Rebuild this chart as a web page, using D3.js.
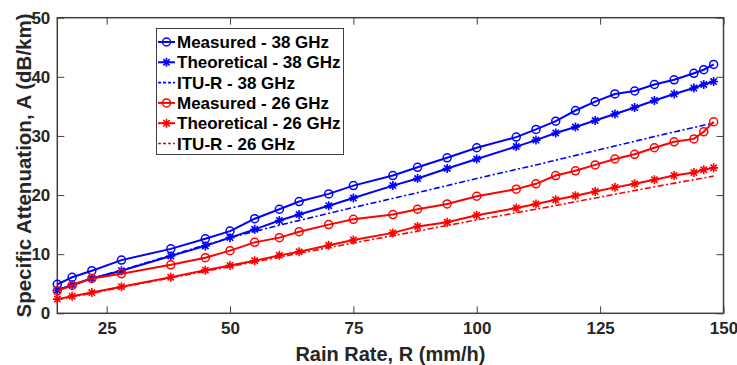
<!DOCTYPE html>
<html>
<head>
<meta charset="utf-8">
<script src="https://cdn.jsdelivr.net/npm/d3@7"></script>
<style>
  body { margin: 0; background: #fff; }
  text { font-family: "Liberation Sans", Arial, sans-serif; font-weight: bold; }
</style>
</head>
<body>
<script>
// rain rates shared by the measured / theoretical curves
var rainRate = [15, 18, 22, 28, 38, 45, 50, 55, 60, 64, 70, 75, 83, 88, 94, 100,
                108, 112, 116, 120, 124, 128, 132, 136, 140, 144, 146, 148];

var measured38 = [4.9, 6.1, 7.2, 9.0, 10.9, 12.6, 13.9, 16.0, 17.6, 18.9, 20.2, 21.6, 23.3, 24.7,
                  26.3, 28.0, 29.8, 31.1, 32.5, 34.3, 35.8, 37.1, 37.6, 38.7, 39.5, 40.6, 41.2, 42.1];
var theory38   = [3.9, 4.8, 5.9, 7.2, 9.7, 11.4, 12.8, 14.2, 15.7, 16.7, 18.2, 19.5, 21.6, 22.8,
                  24.5, 26.1, 28.2, 29.3, 30.5, 31.5, 32.6, 33.7, 34.8, 36.0, 37.1, 38.1, 38.7, 39.2];
var measured26 = [3.8, 4.7, 5.9, 6.7, 8.2, 9.4, 10.6, 12.0, 12.8, 13.8, 15.0, 15.9, 16.7, 17.6,
                  18.5, 19.8, 21.0, 21.9, 23.3, 24.1, 25.1, 26.1, 26.9, 28.0, 29.0, 29.5, 30.7, 32.4];
var theory26   = [2.4, 2.9, 3.5, 4.5, 6.1, 7.3, 8.1, 8.9, 9.8, 10.4, 11.5, 12.4, 13.6, 14.7,
                  15.4, 16.6, 17.8, 18.5, 19.2, 19.9, 20.6, 21.3, 21.9, 22.6, 23.3, 23.8, 24.3, 24.6];

// ITU-R model curves
var ituRate = [15, 22, 28, 38, 50, 60, 75, 88, 100, 112, 124, 136, 148];
var itu38   = [4.0, 5.9, 7.3, 9.8, 12.8, 14.9, 17.9, 20.4, 22.8, 25.1, 27.5, 29.9, 32.2];
var itu26   = [2.3, 3.4, 4.4, 6.0, 7.9, 9.5, 11.9, 13.9, 15.8, 17.6, 19.5, 21.4, 23.2];

var xTicks = [25, 50, 75, 100, 125, 150];
var yTicks = [0, 10, 20, 30, 40, 50];

var series = [
  { name: "Measured - 38 GHz",    x: rainRate, y: measured38, color: "#0000ff", marker: "circle", dash: null },
  { name: "Theoretical - 38 GHz", x: rainRate, y: theory38,   color: "#0000ff", marker: "star",   dash: null },
  { name: "ITU-R - 38 GHz",       x: ituRate,  y: itu38,      color: "#0000ff", marker: null,     dash: "6,2.5,2,2.5" },
  { name: "Measured - 26 GHz",    x: rainRate, y: measured26, color: "#ff0000", marker: "circle", dash: null },
  { name: "Theoretical - 26 GHz", x: rainRate, y: theory26,   color: "#ff0000", marker: "star",   dash: null },
  { name: "ITU-R - 26 GHz",       x: ituRate,  y: itu26,      color: "#ff0000", marker: null,     dash: "6,2.5,2,2.5" }
];

var width = 737, height = 365;
var margin = { left: 57.3, right: 13.5, top: 17.7, bottom: 51.7 };
var axisColor = "#404040";

var svg = d3.select("body").append("svg").attr("width", width).attr("height", height);

var x = d3.scaleLinear().domain([15, 150]).range([margin.left, width - margin.right]);
var y = d3.scaleLinear().domain([0, 50]).range([height - margin.bottom, margin.top]);

// axes, Matlab style: ticks inside, box all round
function styleAxis(g) {
  g.select(".domain").remove();
  g.selectAll(".tick line").attr("stroke", axisColor).attr("stroke-width", 1);
  g.selectAll(".tick text").attr("fill", "#262626").style("font-size", "17px");
}

svg.append("g").attr("transform", "translate(0," + y(0) + ")")
  .call(d3.axisBottom(x).tickValues(xTicks).tickSizeInner(-7).tickSizeOuter(0).tickPadding(9))
  .call(styleAxis);
svg.append("g").attr("transform", "translate(0," + y(50) + ")")
  .call(d3.axisTop(x).tickValues(xTicks).tickSizeInner(-7).tickSizeOuter(0).tickFormat(""))
  .call(styleAxis);
svg.append("g").attr("transform", "translate(" + x(15) + ",0)")
  .call(d3.axisLeft(y).tickValues(yTicks).tickSizeInner(-7).tickSizeOuter(0).tickPadding(7))
  .call(styleAxis);
svg.append("g").attr("transform", "translate(" + x(150) + ",0)")
  .call(d3.axisRight(y).tickValues(yTicks).tickSizeInner(-7).tickSizeOuter(0).tickFormat(""))
  .call(styleAxis);

svg.append("rect")
  .attr("x", x(15)).attr("y", y(50))
  .attr("width", x(150) - x(15)).attr("height", y(0) - y(50))
  .attr("fill", "none").attr("stroke", axisColor).attr("stroke-width", 1.5);

// axis titles
svg.append("text")
  .attr("x", (x(15) + x(150)) / 2).attr("y", 361)
  .attr("text-anchor", "middle").attr("fill", "#262626").style("font-size", "20px")
  .text("Rain Rate, R (mm/h)");
svg.append("text")
  .attr("transform", "translate(31," + (y(0) + y(50)) / 2 + ") rotate(-90)")
  .attr("text-anchor", "middle").attr("fill", "#262626").style("font-size", "20.5px")
  .text("Specific Attenuation, A (dB/km)");

// marker drawing
var starPath = (function () {
  var r = 4.5, d = r * Math.SQRT1_2;
  return "M" + (-r) + ",0L" + r + ",0M0," + (-r) + "L0," + r +
         "M" + (-d) + "," + (-d) + "L" + d + "," + d + "M" + (-d) + "," + d + "L" + d + "," + (-d);
})();

function drawMarker(g, type, color) {
  if (type === "circle") {
    g.append("circle").attr("r", 4).attr("fill", "none").attr("stroke", color).attr("stroke-width", 1.5);
  } else if (type === "star") {
    g.append("path").attr("d", starPath).attr("fill", "none").attr("stroke", color).attr("stroke-width", 1.6);
  }
}

var line = d3.line().x(function (d) { return x(d[0]); }).y(function (d) { return y(d[1]); });

series.forEach(function (s) {
  var pts = s.x.map(function (v, i) { return [v, s.y[i]]; });
  svg.append("path")
    .datum(pts)
    .attr("d", line)
    .attr("fill", "none")
    .attr("stroke", s.color)
    .attr("stroke-width", s.dash ? 1.6 : 2)
    .attr("stroke-dasharray", s.dash);
  if (s.marker) {
    svg.append("g").selectAll("g")
      .data(pts)
      .enter()
      .append("g")
      .attr("transform", function (d) { return "translate(" + x(d[0]) + "," + y(d[1]) + ")"; })
      .each(function () { drawMarker(d3.select(this), s.marker, s.color); });
  }
});

// legend
var lg = svg.append("g");
lg.append("rect")
  .attr("x", 156.5).attr("y", 28.5).attr("width", 187).attr("height", 126)
  .attr("fill", "#fff").attr("stroke", axisColor).attr("stroke-width", 1);

series.forEach(function (s, i) {
  var cy = 42 + i * 20.3;
  lg.append("line")
    .attr("x1", 158).attr("x2", 175).attr("y1", cy).attr("y2", cy)
    .attr("stroke", s.color).attr("stroke-width", s.dash ? 1.6 : 2)
    .attr("stroke-dasharray", s.dash ? "3,2" : null);
  if (s.marker) {
    drawMarker(lg.append("g").attr("transform", "translate(166.5," + cy + ")"), s.marker, s.color);
  }
  lg.append("text")
    .attr("x", 177).attr("y", cy + 6)
    .attr("fill", "#000").style("font-size", "17px")
    .text(s.name);
});
</script>
</body>
</html>
